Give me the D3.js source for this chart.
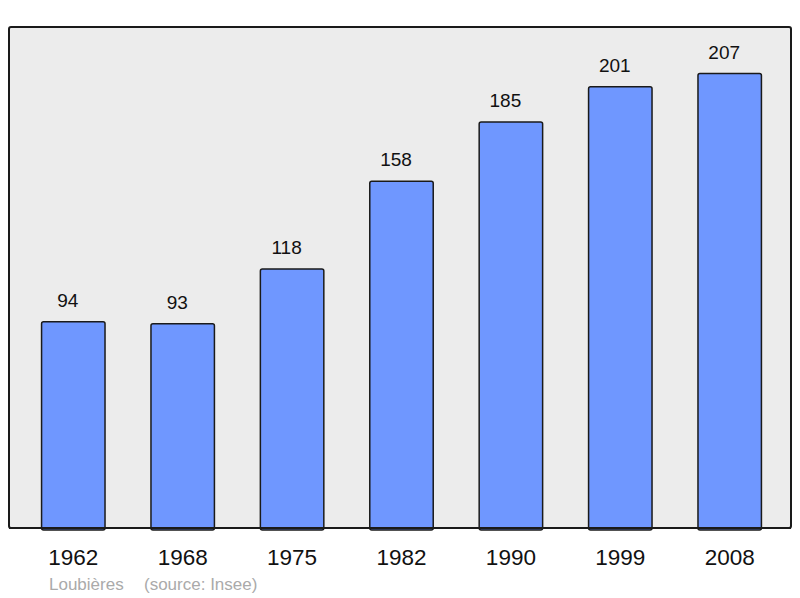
<!DOCTYPE html>
<html>
<head>
<meta charset="utf-8">
<script src="https://cdn.jsdelivr.net/npm/d3@7"></script>
<style>
  body { margin: 0; background: #ffffff; }
  svg { display: block; font-family: "Liberation Sans", Arial, sans-serif; }
</style>
</head>
<body>
<div id="chart"></div>
<script>
const years = ["1962", "1968", "1975", "1982", "1990", "1999", "2008"];
const population = [94, 93, 118, 158, 185, 201, 207];
const commune = "Loubières";
const source = "(source: Insee)";

const width = 800;
const height = 598;
const frame = { left: 9, top: 27, right: 791, bottom: 528 };

const svg = d3.select("#chart")
  .append("svg")
  .attr("width", width)
  .attr("height", height);

// plot background and border
svg.append("rect")
  .attr("x", frame.left)
  .attr("y", frame.top)
  .attr("width", frame.right - frame.left)
  .attr("height", frame.bottom - frame.top)
  .attr("rx", 2)
  .attr("fill", "#ececec")
  .attr("stroke", "#1a1a1a")
  .attr("stroke-width", 2);

const x = d3.scaleBand()
  .domain(years)
  .range([10.5, 792.5])
  .paddingInner(0.42)
  .paddingOuter(0.284);

const y = d3.scaleLinear()
  .domain([0, 228])
  .range([frame.bottom, frame.top + 0.5]);

const data = years.map((year, i) => ({ year, value: population[i] }));

svg.selectAll("rect.bar")
  .data(data)
  .enter()
  .append("rect")
  .attr("class", "bar")
  .attr("x", (d) => x(d.year))
  .attr("y", (d) => y(d.value))
  .attr("width", x.bandwidth())
  .attr("height", (d) => frame.bottom - y(d.value) + 2)
  .attr("rx", 2)
  .attr("fill", "#6f97ff")
  .attr("stroke", "#1a1a1a")
  .attr("stroke-width", 1.5);

// redraw bottom border over bar bottoms
svg.append("line")
  .attr("x1", frame.left)
  .attr("x2", frame.right)
  .attr("y1", frame.bottom)
  .attr("y2", frame.bottom)
  .attr("stroke", "#1a1a1a")
  .attr("stroke-width", 2);

// value labels sit a little left of the bar centre
svg.selectAll("text.value")
  .data(data)
  .enter()
  .append("text")
  .attr("class", "value")
  .attr("x", (d) => x(d.year) + x.bandwidth() / 2 - 5.5)
  .attr("y", (d) => y(d.value) - 15)
  .attr("text-anchor", "middle")
  .attr("font-size", 19)
  .attr("fill", "#111")
  .text((d) => d.value);

const xAxis = svg.append("g")
  .attr("transform", `translate(0,${frame.bottom})`)
  .call(d3.axisBottom(x).tickSize(0).tickPadding(0));

xAxis.select(".domain").remove();
xAxis.selectAll("text")
  .attr("y", 37)
  .attr("dy", 0)
  .attr("font-size", 22.5)
  .attr("font-family", "\"Liberation Sans\", Arial, sans-serif")
  .attr("fill", "#111");

svg.append("text")
  .attr("x", 49)
  .attr("y", 590)
  .attr("font-size", 17)
  .attr("fill", "#aaaaaa")
  .text(commune);

svg.append("text")
  .attr("x", 144)
  .attr("y", 590)
  .attr("font-size", 17)
  .attr("fill", "#aaaaaa")
  .text(source);
</script>
</body>
</html>
